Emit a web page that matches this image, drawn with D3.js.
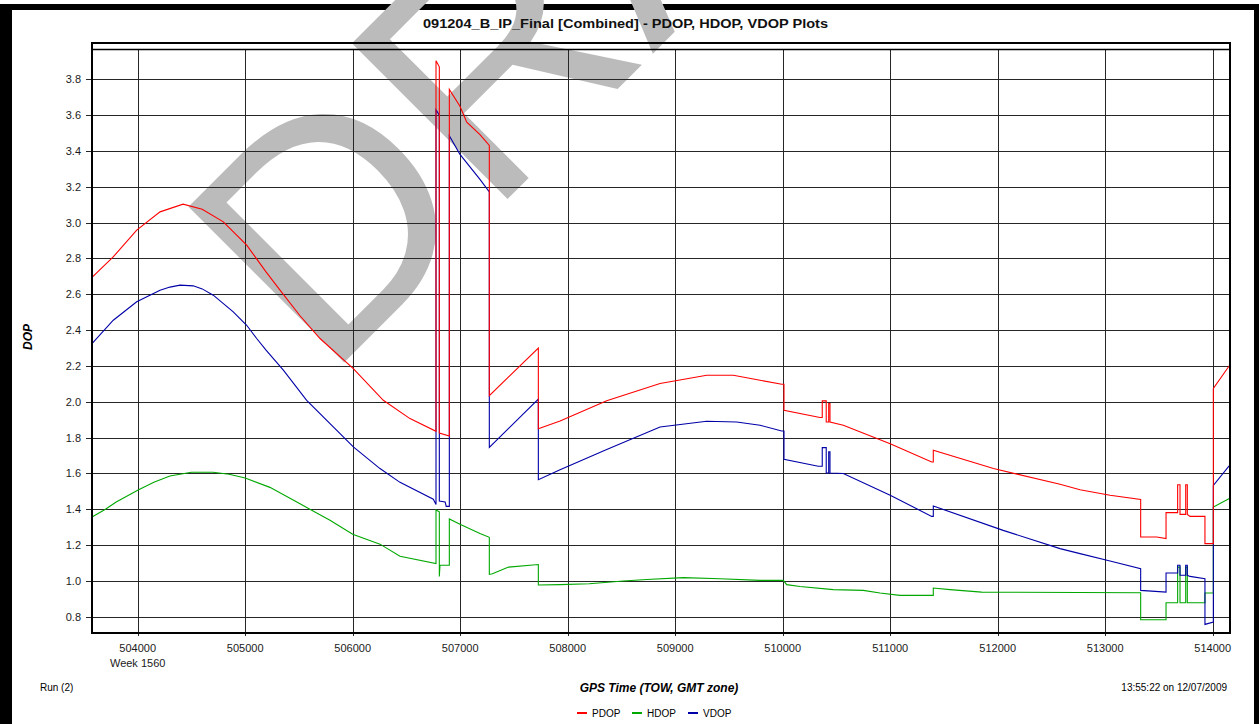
<!DOCTYPE html>
<html>
<head>
<meta charset="utf-8">
<script src="https://cdn.jsdelivr.net/npm/d3@7"></script>
<style>
  body { margin: 0; background: #fff; }
  svg { display: block; }
  text { font-family: "Liberation Sans", Arial, sans-serif; }
</style>
</head>
<body>
<svg id="chart" width="1259" height="724"></svg>
<script>
// tick values
const xTicks = [504000, 505000, 506000, 507000, 508000, 509000, 510000, 511000, 512000, 513000, 514000];
const yTicks = [0.8, 1.0, 1.2, 1.4, 1.6, 1.8, 2.0, 2.2, 2.4, 2.6, 2.8, 3.0, 3.2, 3.4, 3.6, 3.8];

// PDOP (GPS time of week, value) - repeated times are vertical jumps
const pdopTime = [503575, 503770, 503991, 504208, 504422, 504600, 504797, 505014, 505194, 505324, 505510, 505696, 506006, 506285, 506533, 506775,
  506775, 506806, 506806, 506899, 506899, 506998, 507061, 507184, 507271, 507271, 507727, 507727, 507929, 508363, 508859,
  509293, 509541, 509789, 509991, 510012, 510012, 510347, 510368, 510368, 510405, 510405, 510428, 510428, 510440, 510440,
  510564, 511000, 511386, 511401, 511401, 511961, 512580, 512766, 513045, 513330, 513330, 513480, 513566, 513566, 513674,
  513674, 513696, 513696, 513749, 513749, 513764, 513764, 513789, 513928, 513928, 514006, 514006, 514151, 514161];
const pdopValue = [2.694, 2.807, 2.958, 3.060, 3.103, 3.075, 3.004, 2.874, 2.725, 2.623, 2.480, 2.353, 2.185, 2.008, 1.906, 1.835,
  3.904, 3.870, 1.825, 1.809, 3.744, 3.650, 3.561, 3.491, 3.431, 2.034, 2.300, 1.849, 1.892, 2.005, 2.102,
  2.148, 2.148, 2.120, 2.098, 2.098, 1.952, 1.912, 1.912, 2.005, 2.005, 1.887, 1.887, 1.990, 1.990, 1.887,
  1.869, 1.766, 1.664, 1.664, 1.729, 1.627, 1.539, 1.509, 1.478, 1.454, 1.245, 1.245, 1.236, 1.381, 1.381,
  1.537, 1.537, 1.371, 1.371, 1.537, 1.537, 1.371, 1.360, 1.360, 1.208, 1.208, 2.074, 2.198, 2.205];

// HDOP
const hdopTime = [503575, 503700, 503800, 504000, 504150, 504300, 504500, 504700, 504850, 505000, 505230, 505510, 505789, 506000, 506254, 506440, 506775, 506775, 506806,
  506806, 506812, 506899, 506899, 506998, 507184, 507271, 507271, 507300, 507450, 507727, 507727, 507929, 508200, 508517,
  508735, 509076, 509418, 509789, 510006, 510037, 510161, 510471, 510750, 510905, 511091, 511401, 511401, 511556, 511851,
  513330, 513330, 513566, 513566, 513674, 513674, 513696, 513696, 513749, 513749, 513764, 513764, 513928, 513928, 514006,
  514006, 514151, 514161];
const hdopValue = [1.357, 1.400, 1.440, 1.506, 1.550, 1.585, 1.606, 1.606, 1.595, 1.574, 1.522, 1.430, 1.338, 1.260, 1.205, 1.137, 1.097, 1.396, 1.386,
  1.025, 1.087, 1.087, 1.346, 1.316, 1.265, 1.243, 1.036, 1.040, 1.077, 1.091, 0.977, 0.979, 0.984, 0.999,
  1.008, 1.018, 1.012, 1.003, 1.003, 0.979, 0.969, 0.951, 0.947, 0.932, 0.919, 0.919, 0.960, 0.951, 0.937,
  0.934, 0.783, 0.783, 0.878, 0.878, 1.077, 1.077, 0.878, 0.878, 1.077, 1.077, 0.878, 0.878, 0.932, 0.932,
  1.412, 1.459, 1.462];

// VDOP
const vdopTime = [503575, 503773, 503991, 504208, 504300, 504394, 504517, 504600, 504703, 504889, 505014, 505107, 505194, 505355, 505572, 505789,
  506006, 506254, 506440, 506750, 506775, 506775, 506806, 506806, 506860, 506870, 506899, 506899, 506998, 507184, 507271,
  507271, 507727, 507727, 507929, 508363, 508859, 509293, 509572, 509789, 509991, 510012, 510012, 510331, 510368, 510368,
  510405, 510405, 510428, 510428, 510440, 510440, 510564, 511000, 511386, 511401, 511401, 512051, 512580, 512766, 513045,
  513330, 513330, 513566, 513566, 513674, 513674, 513696, 513696, 513749, 513749, 513764, 513764, 513789, 513928, 513928,
  514006, 514006, 514151, 514161];
const vdopValue = [2.325, 2.455, 2.558, 2.623, 2.640, 2.651, 2.647, 2.630, 2.595, 2.502, 2.427, 2.353, 2.288, 2.176, 2.008, 1.878,
  1.748, 1.627, 1.550, 1.456, 1.427, 3.630, 3.600, 1.446, 1.440, 1.416, 1.416, 3.485, 3.381, 3.241, 3.171,
  1.745, 2.015, 1.565, 1.621, 1.733, 1.859, 1.891, 1.887, 1.869, 1.837, 1.837, 1.679, 1.640, 1.640, 1.744,
  1.744, 1.602, 1.602, 1.720, 1.720, 1.602, 1.599, 1.478, 1.360, 1.360, 1.418, 1.282, 1.180, 1.152, 1.111,
  1.068, 0.947, 0.937, 1.044, 1.044, 1.087, 1.087, 1.031, 1.031, 1.087, 1.087, 1.031, 1.025, 1.012, 0.757,
  0.770, 1.533, 1.640, 1.645];

const series = [
  { name: "HDOP", color: "#00a800", t: hdopTime, v: hdopValue },
  { name: "VDOP", color: "#0000a8", t: vdopTime, v: vdopValue },
  { name: "PDOP", color: "#ff0000", t: pdopTime, v: pdopValue }
];
const legendOrder = ["PDOP", "HDOP", "VDOP"];

const svg = d3.select("#chart");
const plotLeft = 92, plotRight = 1230, plotTop = 50, frameTop = 43, plotBottom = 633;

// page frame
svg.append("rect").attr("x", 0).attr("y", 4).attr("width", 1259).attr("height", 6).attr("fill", "#000");
svg.append("rect").attr("x", 0).attr("y", 4).attr("width", 12).attr("height", 720).attr("fill", "#000");
svg.append("rect").attr("x", 1254).attr("y", 4).attr("width", 5).attr("height", 720).attr("fill", "#000");

// watermark
svg.append("text")
  .attr("transform", "translate(325.6,381) rotate(-45)")
  .attr("font-size", "320px")
  .attr("fill", "#bbbbbb")
  .text("DRAFT");

const x = d3.scaleLinear().domain([503575, 514161]).range([plotLeft, plotRight]);
const y = d3.scaleLinear().domain([0.709, 3.9636]).range([plotBottom, plotTop]);

// title
svg.append("text")
  .attr("x", 625.5).attr("y", 27.5)
  .attr("text-anchor", "middle")
  .attr("font-size", "13px")
  .attr("font-weight", "bold")
  .attr("fill", "#111")
  .attr("textLength", 405)
  .attr("lengthAdjust", "spacingAndGlyphs")
  .text("091204_B_IP_Final [Combined] - PDOP, HDOP, VDOP Plots");

// grid
const grid = svg.append("g").attr("stroke", "#262626").attr("stroke-width", 1).attr("shape-rendering", "crispEdges");
grid.selectAll(".gy").data(yTicks).join("line")
  .attr("x1", plotLeft - 6).attr("x2", plotRight)
  .attr("y1", (d) => Math.round(y(d)) + 0.5).attr("y2", (d) => Math.round(y(d)) + 0.5);
grid.selectAll(".gx").data(xTicks).join("line")
  .attr("x1", (d) => Math.round(x(d)) + 0.5).attr("x2", (d) => Math.round(x(d)) + 0.5)
  .attr("y1", plotTop).attr("y2", plotBottom + 3);

// y labels
svg.append("g").selectAll("text").data(yTicks).join("text")
  .attr("x", 81).attr("y", (d) => y(d) + 4)
  .attr("text-anchor", "end")
  .attr("font-size", "11px")
  .attr("fill", "#1a1a1a")
  .text(d3.format(".1f"));

// x labels
svg.append("g").selectAll("text").data(xTicks).join("text")
  .attr("x", (d) => x(d)).attr("y", 652)
  .attr("text-anchor", "middle")
  .attr("font-size", "11px")
  .attr("fill", "#1a1a1a")
  .text((d) => d);
svg.append("text")
  .attr("x", x(xTicks[0])).attr("y", 666.5)
  .attr("text-anchor", "middle")
  .attr("font-size", "11px")
  .attr("fill", "#1a1a1a")
  .text("Week 1560");

// series
const line = d3.line().x((d) => x(d[0])).y((d) => y(d[1]));
const lines = svg.append("g").attr("fill", "none").attr("stroke-width", 1.1).attr("stroke-linejoin", "miter");
series.forEach((s) => {
  lines.append("path")
    .datum(s.t.map((t, i) => [t, s.v[i]]))
    .attr("stroke", s.color)
    .attr("d", line);
});

// frame
svg.append("rect")
  .attr("x", plotLeft).attr("y", frameTop)
  .attr("width", plotRight - plotLeft).attr("height", plotBottom - frameTop)
  .attr("fill", "none").attr("stroke", "#000").attr("stroke-width", 2);
svg.append("line")
  .attr("x1", plotLeft).attr("x2", plotRight).attr("y1", plotTop - 0.5).attr("y2", plotTop - 0.5)
  .attr("stroke", "#000").attr("stroke-width", 1.5);

// axis titles
svg.append("text")
  .attr("transform", "translate(32,337) rotate(-90)")
  .attr("text-anchor", "middle")
  .attr("font-size", "12px")
  .attr("font-weight", "bold")
  .attr("font-style", "italic")
  .text("DOP");
svg.append("text")
  .attr("x", 659).attr("y", 692)
  .attr("text-anchor", "middle")
  .attr("font-size", "12px")
  .attr("font-weight", "bold")
  .attr("font-style", "italic")
  .text("GPS Time (TOW, GMT zone)");
svg.append("text")
  .attr("x", 40).attr("y", 691)
  .attr("font-size", "10px")
  .text("Run (2)");
svg.append("text")
  .attr("x", 1227).attr("y", 691)
  .attr("text-anchor", "end")
  .attr("font-size", "10px")
  .text("13:55:22 on 12/07/2009");

// legend
const legendX = [577, 632, 688];
const legend = svg.append("g");
legendOrder.forEach((name, i) => {
  const s = series.find((d) => d.name === name);
  legend.append("line")
    .attr("x1", legendX[i]).attr("x2", legendX[i] + 10)
    .attr("y1", 713).attr("y2", 713)
    .attr("stroke", s.color).attr("stroke-width", 2);
  legend.append("text")
    .attr("x", legendX[i] + 15).attr("y", 716.5)
    .attr("font-size", "10px")
    .text(name);
});
</script>
</body>
</html>
